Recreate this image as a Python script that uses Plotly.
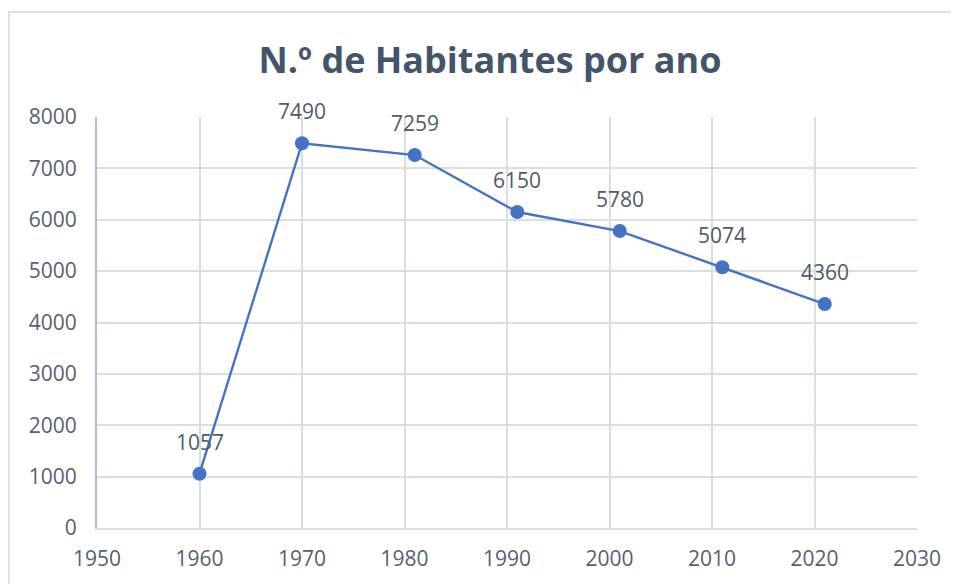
import plotly.graph_objects as go

years = [1960, 1970, 1981, 1991, 2001, 2011, 2021]
habitantes = [1057, 7490, 7259, 6150, 5780, 5074, 4360]
title_text = "N.º de Habitantes por ano"

# page has an 8px body margin; compensate so plot area lands at reference pixels
OFF = 8
L, R, T, B = 97, 917, 117, 528
W, H = 959 - OFF, 584 - OFF
l, t = L - OFF, T - OFF
r, b = W - (R - OFF), H - (B - OFF)
pw, ph = R - L, B - T

fig = go.Figure()
fig.add_trace(go.Scatter(
    x=years, y=habitantes, mode="lines+markers",
    line=dict(color="#4472c4", width=2.4),
    marker=dict(color="#4472c4", size=14),
    hoverinfo="x+y", showlegend=False,
))
for xv, yv in zip(years, habitantes):
    fig.add_annotation(x=xv, y=yv, text=str(yv), showarrow=False,
                       yshift=32, font=dict(size=21, color="#505a68"))

font_fam = "Open Sans, Noto Sans, sans-serif"
fig.update_layout(
    width=W, height=H,
    margin=dict(l=l, r=r, t=t, b=b),
    paper_bgcolor="white", plot_bgcolor="white",
    font=dict(family=font_fam, color="#56606e"),
    title=dict(text="<b>" + title_text + "</b>", x=(490 - OFF) / W, xanchor="center",
               y=1 - (60 - OFF) / H, yanchor="middle",
               font=dict(size=36, color="#44546a", family=font_fam)),
    xaxis=dict(range=[1950, 2030], tickvals=list(range(1950, 2031, 10)),
               showgrid=True, gridcolor="#d9dde6", gridwidth=2,
               showline=True, linecolor="#d9dde6", linewidth=2,
               zeroline=False, ticks="", tickfont=dict(size=21, color="#56606e"),
               ticklabelstandoff=11),
    yaxis=dict(range=[0, 8000], tickvals=list(range(0, 8001, 1000)),
               showgrid=True, gridcolor="#d9dde6", gridwidth=2,
               showline=True, linecolor="#b4bccb", linewidth=2,
               zeroline=False, ticks="", tickfont=dict(size=21, color="#56606e"),
               ticklabelstandoff=14),
)
fig.add_shape(type="rect", xref="paper", yref="paper",
              x0=(9 - L) / pw, x1=(975 - L) / pw,
              y0=(B - 600) / ph, y1=(B - 12) / ph,
              line=dict(color="#dde1e8", width=2), layer="below")
fig.write_html("out.html")
